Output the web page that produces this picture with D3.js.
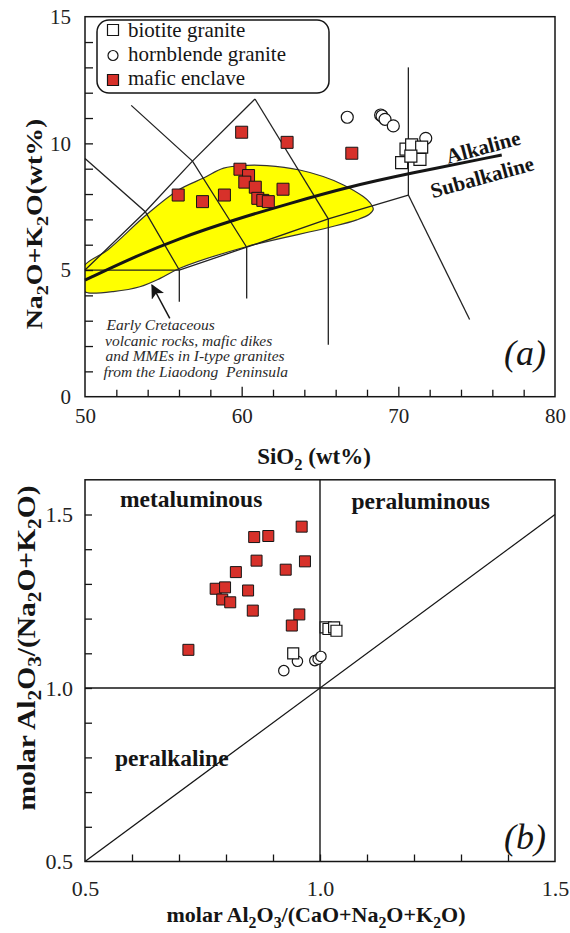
<!DOCTYPE html>
<html>
<head>
<meta charset="utf-8">
<script src="https://cdn.jsdelivr.net/npm/d3@7"></script>
<style>
  body { margin: 0; background: #fff; }
  svg { display: block; }
</style>
</head>
<body>
<svg id="chart" width="570" height="933"></svg>
<script>
// ---------- Panel (a): TAS diagram, SiO2 vs Na2O+K2O (wt%) ----------
const biotiteSiO2 = [70.49, 70.21, 70.85, 71.49, 71.38, 70.80];
const biotiteAlk  = [9.77, 9.24, 9.94, 9.85, 9.37, 9.50];

const hornblendeSiO2 = [66.74, 68.87, 68.96, 69.15, 69.68, 71.75];
const hornblendeAlk  = [11.03, 11.12, 11.08, 10.95, 10.69, 10.20];

const enclaveSiO2 = [60.00, 62.90, 67.03, 59.89, 60.44, 60.20, 60.87, 61.03, 61.35, 61.70, 62.64, 55.95, 57.50, 58.90];
const enclaveAlk  = [10.44, 10.04, 9.61, 8.98, 8.73, 8.47, 8.27, 7.83, 7.75, 7.70, 8.19, 7.96, 7.70, 7.96];

// classification boundaries (SiO2, Na2O+K2O)
const fieldLines = [
  [[50.0, 9.40], [53.85, 7.30], [56.02, 5.00]],
  [[50.0, 5.00], [53.85, 7.30], [56.86, 9.30], [60.85, 11.75]],
  [[52.95, 11.50], [56.86, 9.30], [60.32, 5.90]],
  [[60.85, 11.75], [65.53, 7.02]],
  [[50.0, 5.00], [56.02, 5.00], [60.32, 5.90], [65.53, 7.02], [70.64, 7.96]],
  [[70.64, 7.96], [70.64, 13.00]],
  [[70.64, 7.96], [74.55, 3.05]],
  [[56.02, 5.00], [56.02, 3.75]],
  [[60.32, 5.90], [60.32, 3.88]],
  [[65.53, 7.02], [65.53, 2.05]]
];

// alkaline / subalkaline divide
const alkalineDivide = [[50.0, 4.60], [53.0, 5.48], [56.0, 6.25], [59.5, 6.98], [63.0, 7.62], [66.8, 8.28], [70.6, 8.80], [76.6, 9.54]];

// outline of the Early Cretaceous field
const cretaceousField = [
  [49.9, 5.12], [51.47, 5.80], [53.90, 7.17], [55.94, 8.15], [57.60, 8.64], [58.85, 9.02], [60.30, 9.13],
  [61.60, 9.12], [63.70, 8.95], [65.20, 8.69], [66.50, 8.36], [67.76, 7.90], [68.20, 7.65], [68.40, 7.40],
  [68.15, 7.20], [67.35, 6.98], [65.50, 6.67], [60.30, 5.92], [56.05, 5.07], [54.80, 4.67], [53.50, 4.34],
  [51.80, 4.15], [50.20, 4.10], [49.9, 4.20]
];

const aXTicks = [52, 54, 56, 58, 62, 64, 66, 68, 72, 74, 76, 78];
const aXMajor = [60, 70];
const aXLabels = [50, 60, 70, 80];
const aYTicks = [1, 2, 3, 4, 5, 6, 7, 8, 9, 10, 11, 12, 13, 14];
const aYLabels = [0, 5, 10, 15];

const legendNames = ["biotite granite", "hornblende granite", "mafic enclave"];
const noteLines = ["Early Cretaceous", "volcanic rocks, mafic dikes", "and MMEs in I-type granites", "from the Liaodong  Peninsula"];

// ---------- Panel (b): A/NK vs A/CNK ----------
const enclaveACNK = [0.860, 0.890, 0.961, 0.865, 0.821, 0.927, 0.968, 0.778, 0.798, 0.847, 0.792, 0.809, 0.857, 0.956, 0.940, 0.720];
const enclaveANK  = [1.435, 1.438, 1.465, 1.367, 1.334, 1.341, 1.365, 1.286, 1.290, 1.281, 1.255, 1.247, 1.223, 1.212, 1.180, 1.110];

const biotiteACNK = [0.943, 1.012, 1.018, 1.030, 1.035];
const biotiteANK  = [1.100, 1.175, 1.170, 1.175, 1.165];

const hornblendeACNK = [0.923, 0.952, 0.989, 0.996, 1.002];
const hornblendeANK  = [1.050, 1.077, 1.079, 1.083, 1.091];

const bTicks = [0.6, 0.7, 0.8, 0.9, 1.0, 1.1, 1.2, 1.3, 1.4];
const bXLabels = [0.5, 1.0, 1.5];
const bYTicks = [0.6, 0.7, 0.8, 0.9, 1.0, 1.1, 1.2, 1.3, 1.4, 1.5];
const bYLabels = [0.5, 1.0, 1.5];

// ---------- drawing ----------
const svg = d3.select("#chart");
const serif = "'Liberation Serif', 'Times New Roman', Times, serif";
const ink = "#151515";
const red = "#d7312a";
const yellow = "#ffff00";

const ax = d3.scaleLinear().domain([50, 80]).range([85, 555]);
const ay = d3.scaleLinear().domain([0, 15]).range([396.7, 16.7]);
const bx = d3.scaleLinear().domain([0.5, 1.5]).range([85, 555]);
const by = d3.scaleLinear().domain([0.5, 1.6]).range([861.5, 479.8]);

// text with subscripts: parts = [[text, isSub], ...]
function richText(sel, parts, size) {
  let down = false;
  parts.forEach(([t, sub]) => {
    const ts = sel.append("tspan").text(t);
    if (sub && !down) { ts.attr("dy", size * 0.25).attr("font-size", size * 0.72); down = true; }
    else if (sub) { ts.attr("font-size", size * 0.72); }
    else if (!sub && down) { ts.attr("dy", -size * 0.25); down = false; }
  });
  return sel;
}

function styleAxisText(g, size) {
  g.select(".domain").remove();
  g.selectAll("text").attr("font-family", serif).attr("font-size", size).attr("fill", "#222");
}

// ===== panel (a) =====
const pa = svg.append("g");
pa.append("clipPath").attr("id", "clipA").append("rect")
  .attr("x", ax(50)).attr("y", ay(15)).attr("width", ax(80) - ax(50)).attr("height", ay(0) - ay(15));

const lineA = d3.line().x(d => ax(d[0])).y(d => ay(d[1]));
const curveA = d3.line().x(d => ax(d[0])).y(d => ay(d[1])).curve(d3.curveBasis);
const fieldOutline = d3.line().x(d => ax(d[0])).y(d => ay(d[1])).curve(d3.curveCatmullRomClosed.alpha(0.5));

pa.append("path")
  .datum(cretaceousField)
  .attr("d", fieldOutline)
  .attr("fill", yellow).attr("stroke", "#333").attr("stroke-width", 1.2)
  .attr("clip-path", "url(#clipA)");

pa.append("g").selectAll("path").data(fieldLines).join("path")
  .attr("d", lineA).attr("fill", "none").attr("stroke", "#222").attr("stroke-width", 1.3);

pa.append("path").datum(alkalineDivide)
  .attr("d", curveA)
  .attr("fill", "none").attr("stroke", ink).attr("stroke-width", 3);

// axes (a)
pa.append("g").attr("transform", `translate(0,${ay(0)})`).attr("color", ink)
  .call(d3.axisBottom(ax).tickValues(aXTicks).tickSize(-7).tickFormat(""))
  .call(g => g.select(".domain").remove())
  .selectAll("line").attr("stroke-width", 1.3);
pa.append("g").attr("transform", `translate(0,${ay(0)})`).attr("color", ink)
  .call(d3.axisBottom(ax).tickValues(aXMajor).tickSize(-10).tickFormat(""))
  .call(g => g.select(".domain").remove())
  .selectAll("line").attr("stroke-width", 1.3);
pa.append("g").attr("transform", `translate(0,${ay(0)})`)
  .call(d3.axisBottom(ax).tickValues(aXLabels).tickSize(0).tickPadding(11).tickFormat(d3.format("d")))
  .call(g => styleAxisText(g, 21));
pa.append("g").attr("transform", `translate(${ax(50)},0)`).attr("color", ink)
  .call(d3.axisLeft(ay).tickValues(aYTicks).tickSize(-8).tickFormat(""))
  .call(g => g.select(".domain").remove())
  .selectAll("line").attr("stroke-width", 1.3);
pa.append("g").attr("transform", `translate(${ax(50)},0)`)
  .call(d3.axisLeft(ay).tickValues(aYLabels).tickSize(0).tickPadding(14).tickFormat(d3.format("d")))
  .call(g => styleAxisText(g, 21));

pa.append("rect")
  .attr("x", ax(50)).attr("y", ay(15)).attr("width", ax(80) - ax(50)).attr("height", ay(0) - ay(15))
  .attr("fill", "none").attr("stroke", ink).attr("stroke-width", 1.5);

// labels on the divide
pa.append("text").attr("transform", "translate(485,154) rotate(-15)")
  .attr("text-anchor", "middle").attr("font-family", serif).attr("font-weight", "bold")
  .attr("font-size", 21).attr("fill", ink).text("Alkaline");
pa.append("text").attr("transform", "translate(484,184) rotate(-15.5)")
  .attr("text-anchor", "middle").attr("font-family", serif).attr("font-weight", "bold")
  .attr("font-size", 21).attr("fill", ink).text("Subalkaline");

// note with arrow
const defs = svg.append("defs");
defs.append("marker").attr("id", "arrowHead").attr("viewBox", "0 0 10 10")
  .attr("refX", 9).attr("refY", 5).attr("markerWidth", 14).attr("markerHeight", 14)
  .attr("markerUnits", "userSpaceOnUse").attr("orient", "auto")
  .append("path").attr("d", "M0,0 L10,5 L0,10 L2.5,5 Z").attr("fill", ink);

pa.append("line")
  .attr("x1", ax(55.41)).attr("y1", ay(3.09)).attr("x2", ax(54.28)).attr("y2", ay(4.40))
  .attr("stroke", ink).attr("stroke-width", 1.5).attr("marker-end", "url(#arrowHead)");

pa.append("g").selectAll("text").data(noteLines).join("text")
  .attr("x", (d, i) => [106.5, 105, 105.5, 103.5][i])
  .attr("y", (d, i) => 330 + i * 15.5)
  .attr("font-family", serif).attr("font-style", "italic").attr("font-size", 15.5)
  .attr("fill", "#2a2a2a").style("white-space", "pre")
  .text(d => d);

pa.append("text").attr("x", 504).attr("y", 365)
  .attr("font-family", serif).attr("font-style", "italic").attr("font-size", 36)
  .attr("fill", ink).text("(a)");

// data (a)
const sq = (s) => d3.symbol().type(d3.symbolSquare).size(s * s)();
pa.append("g").selectAll("path").data(d3.zip(hornblendeSiO2, hornblendeAlk)).join("path")
  .attr("transform", d => `translate(${ax(d[0])},${ay(d[1])})`)
  .attr("d", d3.symbol().type(d3.symbolCircle).size(Math.PI * 36)())
  .attr("fill", "#fff").attr("stroke", ink).attr("stroke-width", 1.2);
pa.append("g").selectAll("path").data(d3.zip(biotiteSiO2, biotiteAlk)).join("path")
  .attr("transform", d => `translate(${ax(d[0])},${ay(d[1])})`)
  .attr("d", sq(12)).attr("fill", "#fff").attr("stroke", ink).attr("stroke-width", 1.2);
pa.append("g").selectAll("path").data(d3.zip(enclaveSiO2, enclaveAlk)).join("path")
  .attr("transform", d => `translate(${ax(d[0])},${ay(d[1])})`)
  .attr("d", sq(12)).attr("fill", red).attr("stroke", ink).attr("stroke-width", 1);

// legend
const lg = pa.append("g");
lg.append("rect").attr("x", 97).attr("y", 20).attr("width", 232).attr("height", 73).attr("rx", 12)
  .attr("fill", "#fff").attr("stroke", ink).attr("stroke-width", 1.5);
const legendMarks = [
  { d: sq(11), fill: "#fff", y: 30 },
  { d: d3.symbol().type(d3.symbolCircle).size(Math.PI * 25)(), fill: "#fff", y: 55.5 },
  { d: sq(11), fill: red, y: 80 }
];
lg.selectAll("path").data(legendMarks).join("path")
  .attr("transform", d => `translate(113,${d.y})`).attr("d", d => d.d)
  .attr("fill", d => d.fill).attr("stroke", ink).attr("stroke-width", 1.2);
lg.selectAll("text").data(legendNames).join("text")
  .attr("x", 128).attr("y", (d, i) => 37 + i * 24)
  .attr("font-family", serif).attr("font-size", 21).attr("fill", ink).text(d => d);

// axis titles (a)
richText(pa.append("text").attr("x", 314).attr("y", 464).attr("text-anchor", "middle")
  .attr("font-family", serif).attr("font-weight", "bold").attr("font-size", 23).attr("fill", ink),
  [["SiO", false], ["2", true], [" (wt%)", false]], 23);
richText(pa.append("text").attr("transform", "translate(42,224) rotate(-90) scale(1.16,1)").attr("text-anchor", "middle")
  .attr("font-family", serif).attr("font-weight", "bold").attr("font-size", 24).attr("fill", ink),
  [["Na", false], ["2", true], ["O+K", false], ["2", true], ["O(wt%)", false]], 24);

// ===== panel (b) =====
const pb = svg.append("g");
const lineB = d3.line().x(d => bx(d[0])).y(d => by(d[1]));
// boundaries A/CNK = 1, A/NK = 1 and A/NK = A/CNK
pb.append("path").datum([[1.0, 0.5], [1.0, 1.6]]).attr("d", lineB)
  .attr("stroke", ink).attr("stroke-width", 1.4).attr("fill", "none");
pb.append("path").datum([[0.5, 1.0], [1.5, 1.0]]).attr("d", lineB)
  .attr("stroke", ink).attr("stroke-width", 1.4).attr("fill", "none");
pb.append("path").datum([[0.5, 0.5], [1.5, 1.5]]).attr("d", lineB)
  .attr("stroke", ink).attr("stroke-width", 1.3).attr("fill", "none");

pb.append("g").attr("transform", `translate(0,${by(0.5)})`).attr("color", ink)
  .call(d3.axisBottom(bx).tickValues(bTicks).tickSize(-7).tickFormat(""))
  .call(g => g.select(".domain").remove())
  .selectAll("line").attr("stroke-width", 1.3);
pb.append("g").attr("transform", `translate(0,${by(0.5)})`)
  .call(d3.axisBottom(bx).tickValues(bXLabels).tickSize(0).tickPadding(19).tickFormat(d3.format(".1f")))
  .call(g => styleAxisText(g, 22));
pb.append("g").attr("transform", `translate(${bx(0.5)},0)`).attr("color", ink)
  .call(d3.axisLeft(by).tickValues(bYTicks).tickSize(-7).tickFormat(""))
  .call(g => g.select(".domain").remove())
  .selectAll("line").attr("stroke-width", 1.3);
pb.append("g").attr("transform", `translate(${bx(0.5)},0)`)
  .call(d3.axisLeft(by).tickValues(bYLabels).tickSize(0).tickPadding(12).tickFormat(d3.format(".1f")))
  .call(g => styleAxisText(g, 22));

pb.append("rect")
  .attr("x", bx(0.5)).attr("y", by(1.6)).attr("width", bx(1.5) - bx(0.5)).attr("height", by(0.5) - by(1.6))
  .attr("fill", "none").attr("stroke", ink).attr("stroke-width", 1.5);

const fieldNames = [
  { t: "metaluminous", x: 120, y: 507 },
  { t: "peraluminous", x: 351.5, y: 509 },
  { t: "peralkaline", x: 115, y: 766 }
];
pb.append("g").selectAll("text").data(fieldNames).join("text")
  .attr("x", d => d.x).attr("y", d => d.y)
  .attr("font-family", serif).attr("font-weight", "bold").attr("font-size", 23.5).attr("fill", ink)
  .text(d => d.t);

pb.append("text").attr("x", 504).attr("y", 849)
  .attr("font-family", serif).attr("font-style", "italic").attr("font-size", 36)
  .attr("fill", ink).text("(b)");

pb.append("g").selectAll("path").data(d3.zip(hornblendeACNK, hornblendeANK)).join("path")
  .attr("transform", d => `translate(${bx(d[0])},${by(d[1])})`)
  .attr("d", d3.symbol().type(d3.symbolCircle).size(Math.PI * 27)())
  .attr("fill", "#fff").attr("stroke", ink).attr("stroke-width", 1.2);
pb.append("g").selectAll("path").data(d3.zip(biotiteACNK, biotiteANK)).join("path")
  .attr("transform", d => `translate(${bx(d[0])},${by(d[1])})`)
  .attr("d", sq(11)).attr("fill", "#fff").attr("stroke", ink).attr("stroke-width", 1.2);
pb.append("g").selectAll("path").data(d3.zip(enclaveACNK, enclaveANK)).join("path")
  .attr("transform", d => `translate(${bx(d[0])},${by(d[1])})`)
  .attr("d", sq(11)).attr("fill", red).attr("stroke", ink).attr("stroke-width", 1);

richText(pb.append("text").attr("x", 316).attr("y", 922).attr("text-anchor", "middle")
  .attr("font-family", serif).attr("font-weight", "bold").attr("font-size", 22).attr("fill", ink),
  [["molar Al", false], ["2", true], ["O", false], ["3", true], ["/(CaO+Na", false], ["2", true], ["O+K", false], ["2", true], ["O)", false]], 22);
richText(pb.append("text").attr("transform", "translate(35,648) rotate(-90) scale(1.18,1)").attr("text-anchor", "middle")
  .attr("font-family", serif).attr("font-weight", "bold").attr("font-size", 25).attr("fill", ink),
  [["molar Al", false], ["2", true], ["O", false], ["3", true], ["/(Na", false], ["2", true], ["O+K", false], ["2", true], ["O)", false]], 25);
</script>
</body>
</html>
